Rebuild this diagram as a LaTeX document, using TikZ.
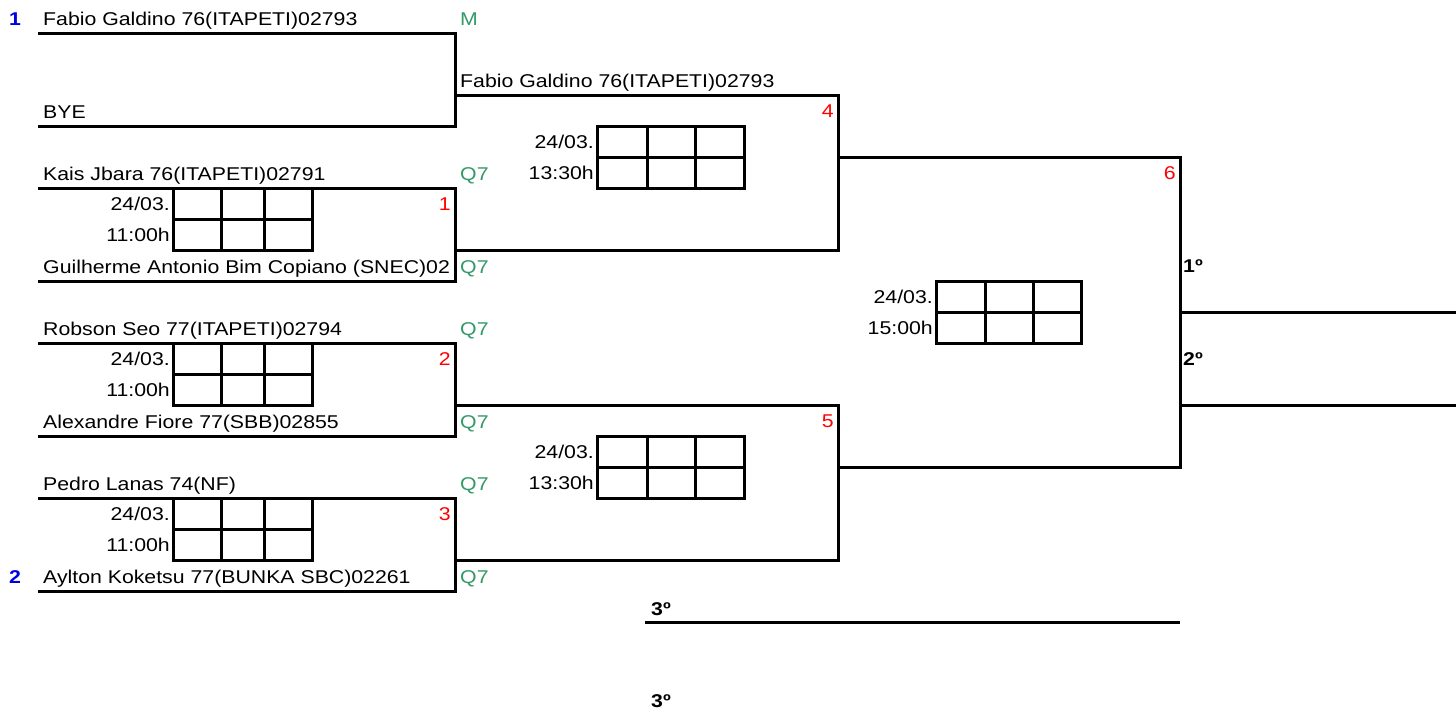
\documentclass[tikz,border=0pt]{standalone}
\usepackage{fontspec}
\setmainfont{Liberation Sans}[FakeStretch=1.15]
\usepackage{xcolor}
\usetikzlibrary{positioning, calc}

\definecolor{azul}{RGB}{0,0,230}
\definecolor{verm}{RGB}{255,0,0}
\definecolor{verde}{RGB}{51,153,102}
\newcommand{\fs}{\fontsize{18.5}{21}\selectfont}

% placar: x0 x1 x2 x3 ytopo
\newcommand{\placar}[5]{
\draw[linha] (#1,#5) rectangle (#4,#5+62);
\draw[linha] (#1,#5+31) -- (#4,#5+31);
\draw[linha] (#2,#5) -- (#2,#5+62);
\draw[linha] (#3,#5) -- (#3,#5+62);
}

\tikzset{
  linha/.style={line width=3pt},
  nome/.style={anchor=base west, inner sep=0pt, font=\fs},
  hora/.style={anchor=base east, inner sep=0pt, font=\fs},
  jogo/.style={anchor=base east, inner sep=0pt, font=\fs, text=verm},
  quali/.style={anchor=base west, inner sep=0pt, font=\fs, text=verde},
  cab/.style={anchor=base west, inner sep=0pt, font=\fs\bfseries},
  semente/.style={anchor=base west, inner sep=0pt, font=\fs\bfseries, text=azul},
}

\begin{document}
\begin{tikzpicture}[x=1pt,y=-1pt]
\useasboundingbox (0,0) rectangle (1456,712);

% primeira rodada
\coordinate (A1) at (38,33);
\coordinate (A2) at (455,33);
\coordinate (A3) at (455,126);
\coordinate (A4) at (38,126);
\coordinate (B1) at (38,188);
\coordinate (B2) at (455,188);
\coordinate (B3) at (455,281);
\coordinate (B4) at (38,281);
\coordinate (C1) at (38,343);
\coordinate (C2) at (455,343);
\coordinate (C3) at (455,436);
\coordinate (C4) at (38,436);
\coordinate (D1) at (38,498);
\coordinate (D2) at (455,498);
\coordinate (D3) at (455,591);
\coordinate (D4) at (38,591);

\draw[linha] (A1) -- (A2) -- (A3) -- (A4);
\draw[linha] (B1) -- (B2) -- (B3) -- (B4);
\draw[linha] (C1) -- (C2) -- (C3) -- (C4);
\draw[linha] (D1) -- (D2) -- (D3) -- (D4);

\node[semente] (s1) at (9,25) {1};
\node[semente] (s2) at (9,583) {2};
\node[nome] (p1) at (43,25) {Fabio Galdino 76(ITAPETI)02793};
\node[nome] (p2) at (43,118) {BYE};
\node[nome] (p3) at (43,180) {Kais Jbara 76(ITAPETI)02791};
\node[nome] (p4) at (43,273) {Guilherme Antonio Bim Copiano (SNEC)02};
\node[nome] (p5) at (43,335) {Robson Seo 77(ITAPETI)02794};
\node[nome] (p6) at (43,428) {Alexandre Fiore 77(SBB)02855};
\node[nome] (p7) at (43,490) {Pedro Lanas 74(NF)};
\node[nome] (p8) at (43,583) {Aylton Koketsu 77(BUNKA SBC)02261};

\node[quali] (q1) at (460,25) {M};
\node[quali] (q3) at (460,180) {Q7};
\node[quali] (q4) at (460,273) {Q7};
\node[quali] (q5) at (460,335) {Q7};
\node[quali] (q6) at (460,428) {Q7};
\node[quali] (q7) at (460,490) {Q7};
\node[quali] (q8) at (460,583) {Q7};

\node[jogo] (j1) at (451,210) {1};
\node[jogo] (j2) at (451,365) {2};
\node[jogo] (j3) at (451,520) {3};

\placar{173}{221}{264}{312}{188}
\placar{173}{221}{264}{312}{343}
\placar{173}{221}{264}{312}{498}
\node[hora] (d1) at (170,210) {24/03.};
\node[hora] (h1) at (170,241) {11:00h};
\node[hora] (d2) at (170,365) {24/03.};
\node[hora] (h2) at (170,396) {11:00h};
\node[hora] (d3) at (170,520) {24/03.};
\node[hora] (h3) at (170,551) {11:00h};

% semifinais
\coordinate (E1) at (455,95);
\coordinate (E2) at (838,95);
\coordinate (E3) at (838,250);
\coordinate (E4) at (455,250);
\coordinate (F1) at (455,405);
\coordinate (F2) at (838,405);
\coordinate (F3) at (838,560);
\coordinate (F4) at (455,560);
\draw[linha] (E1) -- (E2) -- (E3) -- (E4);
\draw[linha] (F1) -- (F2) -- (F3) -- (F4);

\node[nome] (p9) at (460,87) {Fabio Galdino 76(ITAPETI)02793};
\node[jogo] (j4) at (834,117) {4};
\node[jogo] (j5) at (834,427) {5};

\placar{597}{647}{695}{744}{126}
\placar{597}{647}{695}{744}{436}
\node[hora] (d4) at (594,148) {24/03.};
\node[hora] (h4) at (594,179) {13:30h};
\node[hora] (d5) at (594,458) {24/03.};
\node[hora] (h5) at (594,489) {13:30h};

% final
\coordinate (G0) at (838,157);
\coordinate (G1) at (1180,157);
\coordinate (G2) at (1180,467);
\coordinate (G3) at (838,467);
\draw[linha] (G0) -- (G1) -- (G2) -- (G3);
\node[jogo] (j6) at (1176,179) {6};

\placar{936}{985}{1033}{1081}{281}
\node[hora] (d6) at (933,303) {24/03.};
\node[hora] (h6) at (933,334) {15:00h};

\coordinate (H1) at (1180,312);
\coordinate (H2) at (1456,312);
\coordinate (H3) at (1180,405);
\coordinate (H4) at (1456,405);
\draw[linha] (H1) -- (H2);
\draw[linha] (H3) -- (H4);
\node[cab] (c1) at (1183,272) {1º};
\node[cab] (c2) at (1183,365) {2º};

% terceiro lugar
\coordinate (K1) at (645,622);
\coordinate (K2) at (1180,622);
\draw[linha] (K1) -- (K2);
\node[cab] (c3) at (651,615) {3º};
\node[cab] (c4) at (651,707) {3º};
\end{tikzpicture}
\end{document}
